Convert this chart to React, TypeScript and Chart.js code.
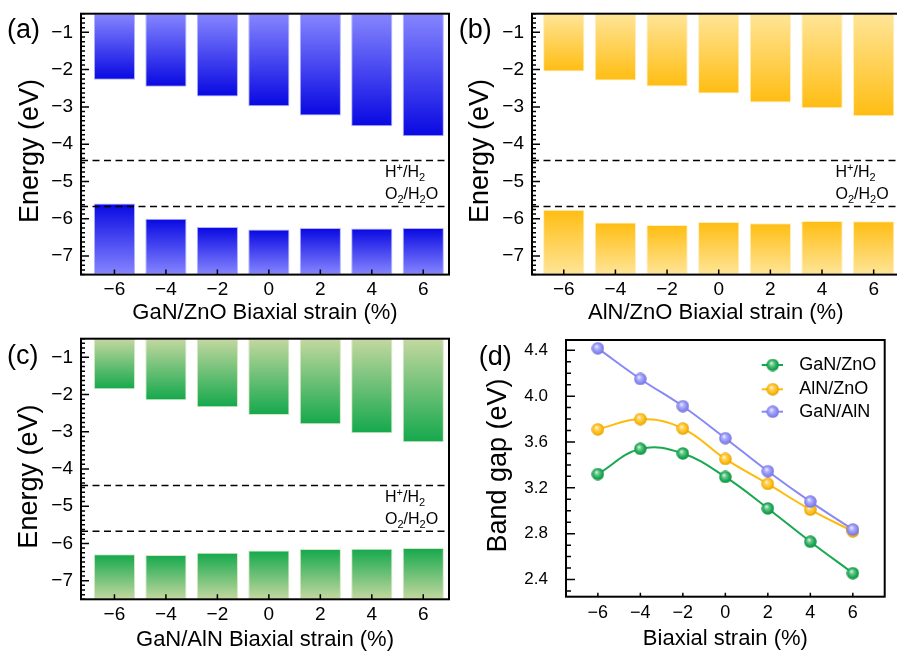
import React, { useEffect, useRef } from 'react';
import { Chart, registerables } from 'chart.js';

Chart.register(...registerables);

// ---------------- data ----------------
const strains = [-6, -4, -2, 0, 2, 4, 6];

const ganZnoCBM = [-2.27, -2.46, -2.72, -2.98, -3.23, -3.52, -3.79];
const ganZnoVBM = [-5.59, -6.0, -6.22, -6.29, -6.25, -6.26, -6.25];
const alnZnoCBM = [-2.05, -2.29, -2.45, -2.64, -2.88, -3.04, -3.25];
const alnZnoVBM = [-5.76, -6.1, -6.17, -6.09, -6.12, -6.06, -6.07];
const ganAlnCBM = [-1.86, -2.15, -2.34, -2.55, -2.8, -3.04, -3.28];
const ganAlnVBM = [-6.29, -6.31, -6.25, -6.19, -6.15, -6.14, -6.12];

const energyRange = [-7.5, -0.5];
const energyTicks = [-7, -6, -5, -4, -3, -2, -1];
const redoxLevels = [-4.44, -5.67];
// [text, mode] mode 0 normal, 1 superscript, 2 subscript
const redoxLabels: [string, number][][] = [
  [['H', 0], ['+', 1], ['/H', 0], ['2', 2]],
  [['O', 0], ['2', 2], ['/H', 0], ['2', 2], ['O', 0]],
];

const gapGaNZnO = [3.32, 3.54, 3.5, 3.295, 3.02, 2.73, 2.455];
const gapAlNZnO = [3.71, 3.8, 3.717, 3.452, 3.234, 3.01, 2.82];
const gapGaNAlN = [4.417, 4.15, 3.912, 3.633, 3.345, 3.08, 2.836];
const gapSeriesNames = ['GaN/ZnO', 'AlN/ZnO', 'GaN/AlN'];
const gapTicks = [2.4, 2.8, 3.2, 3.6, 4.0, 4.4];
const gapRange = [2.25, 4.49];

// ---------------- helpers ----------------
const FONT = '"Liberation Sans", Arial, Helvetica, sans-serif';
Chart.defaults.font.family = FONT;
Chart.defaults.color = '#000';

const fmtSigned = (v: number) => (v < 0 ? '\u2212' + Math.abs(v) : String(v));

function gradientFill(light: string, dark: string) {
  return (c: any) => {
    const chart = c.chart;
    const raw = c.raw;
    if (!chart.chartArea || !raw || !Array.isArray(raw.y)) return light;
    const ys = chart.scales.y;
    const p0 = ys.getPixelForValue(raw.y[0]);
    const p1 = ys.getPixelForValue(raw.y[1]);
    if (!isFinite(p0) || !isFinite(p1) || p0 === p1) return dark;
    const g = chart.ctx.createLinearGradient(0, p0, 0, p1);
    g.addColorStop(0, light);
    g.addColorStop(1, dark);
    return g;
  };
}

function drawChem(ctx: CanvasRenderingContext2D, x: number, y: number, parts: [string, number][]) {
  for (const [t, m] of parts) {
    ctx.font = (m ? '11px ' : '16px ') + FONT;
    const dy = m === 1 ? -6 : m === 2 ? 4 : 0;
    ctx.fillText(t, x, y + dy);
    x += ctx.measureText(t).width;
  }
}

type FrameCfg = {
  yMajor: number[];
  yMinorStep: number;
  yMajorLen: number;
  yMinorLen: number;
  xMajor: number[];
  xLen: number;
  label: string;
  labelX: number;
  labelY: number;
  yTitle: string;
  yTitleX: number;
  yTitleY: number;
};

function framePlugin(cfg: FrameCfg) {
  return {
    id: 'frame',
    afterDraw(chart: any) {
      const { ctx, chartArea: a, scales } = chart;
      const y = scales.y;
      const x = scales.x;
      ctx.save();
      ctx.strokeStyle = '#000';
      ctx.lineWidth = 2;
      ctx.strokeRect(a.left, a.top, a.right - a.left, a.bottom - a.top);
      ctx.lineWidth = 1.5;
      ctx.beginPath();
      const st = cfg.yMinorStep;
      const k0 = Math.ceil(y.min / st - 1e-6);
      const k1 = Math.floor(y.max / st + 1e-6);
      for (let k = k0; k <= k1; k++) {
        const v = k * st;
        const major = cfg.yMajor.some((m) => Math.abs(m - v) < 1e-6);
        const p = y.getPixelForValue(v);
        ctx.moveTo(a.left, p);
        ctx.lineTo(a.left + (major ? cfg.yMajorLen : cfg.yMinorLen), p);
      }
      for (const v of cfg.xMajor) {
        const p = x.getPixelForValue(v);
        ctx.moveTo(p, a.bottom);
        ctx.lineTo(p, a.bottom - cfg.xLen);
      }
      ctx.stroke();
      ctx.fillStyle = '#000';
      ctx.font = '27px ' + FONT;
      ctx.textAlign = 'left';
      ctx.textBaseline = 'middle';
      ctx.fillText(cfg.label, cfg.labelX, cfg.labelY);
      // y-axis title
      ctx.save();
      ctx.translate(cfg.yTitleX, cfg.yTitleY);
      ctx.rotate(-Math.PI / 2);
      ctx.textAlign = 'center';
      ctx.textBaseline = 'middle';
      ctx.font = '27px ' + FONT;
      ctx.fillText(cfg.yTitle, 0, 0);
      ctx.restore();
      ctx.restore();
    },
  };
}

const redoxPlugin = {
  id: 'redox',
  afterDatasetsDraw(chart: any) {
    const { ctx, chartArea: a, scales } = chart;
    const y = scales.y;
    ctx.save();
    ctx.fillStyle = '#000';
    ctx.textAlign = 'left';
    ctx.textBaseline = 'alphabetic';
    drawChem(ctx, a.right - 64, y.getPixelForValue(redoxLevels[0]) + 16.7, redoxLabels[0]);
    drawChem(ctx, a.right - 64, y.getPixelForValue(redoxLevels[1]) - 7, redoxLabels[1]);
    ctx.restore();
  },
};

type Box = { left: number; top: number; w: number; h: number };
type Area = { l: number; t: number; r: number; b: number };

function scaleFitters(cv: Box, area: Area) {
  const yWidth = area.l - cv.left;
  const xHeight = cv.top + cv.h - area.b;
  const zero = (s: any) => {
    s.paddingTop = 0;
    s.paddingBottom = 0;
    s.paddingLeft = 0;
    s.paddingRight = 0;
  };
  return {
    padding: { top: area.t - cv.top, right: cv.left + cv.w - area.r, bottom: 0, left: 0 },
    yFit: (s: any) => {
      s.width = yWidth;
      zero(s);
    },
    xFit: (s: any) => {
      s.height = xHeight;
      zero(s);
    },
  };
}

type BarPanelCfg = {
  cv: Box;
  area: Area;
  xMin: number;
  xMax: number;
  cbm: number[];
  vbm: number[];
  light: string;
  dark: string;
  edge: string;
  xTitle: string;
  yTitleX: number;
  yTitleY: number;
  xTitlePad: number;
  label: string;
  labelX: number;
  labelY: number;
};

function buildBarChart(canvas: HTMLCanvasElement, p: BarPanelCfg) {
  const f = scaleFitters(p.cv, p.area);
  const fill = gradientFill(p.light, p.dark);
  const barCommon = {
    type: 'bar' as const,
    grouped: false,
    backgroundColor: fill,
    borderColor: p.edge,
    borderWidth: 1,
    borderSkipped: false,
    barPercentage: 0.8,
    categoryPercentage: 1,
    order: 1,
  };
  const dash = (lvl: number) => ({
    type: 'line' as const,
    data: [
      { x: p.xMin, y: lvl },
      { x: p.xMax, y: lvl },
    ],
    borderColor: '#000',
    borderWidth: 1.5,
    borderDash: [7, 4.5],
    pointRadius: 0,
    fill: false,
    order: 0,
  });
  return new Chart(canvas, {
    type: 'bar',
    data: {
      datasets: [
        { ...barCommon, label: 'CBM', data: strains.map((x, i) => ({ x, y: [energyRange[1], p.cbm[i]] })) },
        { ...barCommon, label: 'VBM', data: strains.map((x, i) => ({ x, y: [energyRange[0], p.vbm[i]] })) },
        dash(redoxLevels[0]),
        dash(redoxLevels[1]),
      ] as any,
    },
    options: {
      responsive: false,
      maintainAspectRatio: false,
      animation: false,
      events: [],
      layout: { padding: f.padding },
      plugins: { legend: { display: false }, tooltip: { enabled: false } },
      scales: {
        x: {
          type: 'linear',
          min: p.xMin,
          max: p.xMax,
          offset: false,
          grid: { display: false, drawTicks: false },
          border: { display: false },
          afterBuildTicks: (s: any) => {
            s.ticks = strains.map((v) => ({ value: v }));
          },
          afterFit: f.xFit,
          ticks: {
            font: { size: 19 },
            color: '#000',
            padding: 4,
            maxRotation: 0,
            autoSkip: false,
            callback: (v: any) => fmtSigned(Number(v)),
          },
          title: {
            display: true,
            text: p.xTitle,
            font: { size: 22 },
            color: '#000',
            padding: { top: 0, bottom: p.xTitlePad },
          },
        },
        y: {
          type: 'linear',
          min: energyRange[0],
          max: energyRange[1],
          grid: { display: false, drawTicks: false },
          border: { display: false },
          afterBuildTicks: (s: any) => {
            s.ticks = energyTicks.map((v) => ({ value: v }));
          },
          afterFit: f.yFit,
          ticks: {
            font: { size: 19 },
            color: '#000',
            padding: 8,
            callback: (v: any) => fmtSigned(Number(v)),
          },
          title: { display: false },
        },
      },
    } as any,
    plugins: [
      redoxPlugin,
      framePlugin({
        yMajor: energyTicks,
        yMinorStep: 0.125,
        yMajorLen: 8,
        yMinorLen: 4,
        xMajor: strains,
        xLen: 5,
        label: p.label,
        labelX: p.labelX,
        labelY: p.labelY,
        yTitle: 'Energy (eV)',
        yTitleX: p.yTitleX,
        yTitleY: p.yTitleY,
      }),
    ] as any,
  });
}

function ball(rgb: number[]) {
  const c = document.createElement('canvas');
  c.width = 13;
  c.height = 13;
  const g = c.getContext('2d')!;
  const mix = (t: number) =>
    `rgb(${Math.round(rgb[0] + (255 - rgb[0]) * t)},${Math.round(rgb[1] + (255 - rgb[1]) * t)},${Math.round(
      rgb[2] + (255 - rgb[2]) * t
    )})`;
  const dk = (t: number) => `rgb(${Math.round(rgb[0] * t)},${Math.round(rgb[1] * t)},${Math.round(rgb[2] * t)})`;
  const grad = g.createRadialGradient(5, 4.5, 0.3, 6.5, 6.5, 6.6);
  grad.addColorStop(0, mix(0.85));
  grad.addColorStop(0.3, mix(0.35));
  grad.addColorStop(0.7, `rgb(${rgb.join(',')})`);
  grad.addColorStop(1, dk(0.82));
  g.fillStyle = grad;
  g.beginPath();
  g.arc(6.5, 6.5, 6.2, 0, Math.PI * 2);
  g.fill();
  return c;
}

const gapColors = [
  [24, 168, 80],
  [255, 186, 10],
  [136, 136, 246],
];

function buildGapChart(canvas: HTMLCanvasElement) {
  const cv = { left: 452, top: 330, w: 445, h: 324 };
  const area = { l: 566, t: 340, r: 884.7, b: 596.7 };
  const f = scaleFitters(cv, area);
  const series = [gapGaNZnO, gapAlNZnO, gapGaNAlN];
  const balls = gapColors.map(ball);
  const orders = [2, 1, 0];
  const legendPlugin = {
    id: 'gapLegend',
    afterDraw(chart: any) {
      const { ctx, chartArea: a } = chart;
      ctx.save();
      const rows = [25, 49.3, 71.7];
      gapSeriesNames.forEach((name, i) => {
        const cy = a.top + rows[i];
        ctx.strokeStyle = `rgb(${gapColors[i].join(',')})`;
        ctx.lineWidth = 2;
        ctx.beginPath();
        ctx.moveTo(a.right - 123, cy);
        ctx.lineTo(a.right - 101.7, cy);
        ctx.stroke();
        ctx.drawImage(balls[i], a.right - 112 - 6.5, cy - 6.5);
        ctx.fillStyle = '#000';
        ctx.font = '18px ' + FONT;
        ctx.textAlign = 'left';
        ctx.textBaseline = 'middle';
        ctx.fillText(name, a.right - 85.4, cy);
      });
      ctx.restore();
    },
  };
  return new Chart(canvas, {
    type: 'line',
    data: {
      datasets: series.map((vals, i) => ({
        label: gapSeriesNames[i],
        data: strains.map((x, j) => ({ x, y: vals[j] })),
        borderColor: `rgb(${gapColors[i].join(',')})`,
        borderWidth: 2,
        tension: 0.4,
        pointStyle: balls[i],
        pointRadius: 6,
        fill: false,
        order: orders[i],
      })),
    },
    options: {
      responsive: false,
      maintainAspectRatio: false,
      animation: false,
      events: [],
      layout: { padding: f.padding },
      plugins: { legend: { display: false }, tooltip: { enabled: false } },
      scales: {
        x: {
          type: 'linear',
          min: -7.5,
          max: 7.5,
          grid: { display: false, drawTicks: false },
          border: { display: false },
          afterBuildTicks: (s: any) => {
            s.ticks = strains.map((v) => ({ value: v }));
          },
          afterFit: f.xFit,
          ticks: {
            font: { size: 18 },
            color: '#000',
            padding: 6,
            maxRotation: 0,
            autoSkip: false,
            callback: (v: any) => fmtSigned(Number(v)),
          },
          title: {
            display: true,
            text: 'Biaxial strain (%)',
            font: { size: 22 },
            color: '#000',
            padding: { top: 0, bottom: 2 },
          },
        },
        y: {
          type: 'linear',
          min: gapRange[0],
          max: gapRange[1],
          grid: { display: false, drawTicks: false },
          border: { display: false },
          afterBuildTicks: (s: any) => {
            s.ticks = gapTicks.map((v) => ({ value: v }));
          },
          afterFit: f.yFit,
          ticks: {
            font: { size: 17 },
            color: '#000',
            padding: 18,
            callback: (v: any) => Number(v).toFixed(1),
          },
          title: { display: false },
        },
      },
    } as any,
    plugins: [
      legendPlugin,
      framePlugin({
        yMajor: gapTicks,
        yMinorStep: 0.1,
        yMajorLen: 9,
        yMinorLen: 5,
        xMajor: strains,
        xLen: 4,
        label: '(d)',
        labelX: 26.7,
        labelY: 27.5,
        yTitle: 'Band gap (eV)',
        yTitleX: 47,
        yTitleY: 135.5,
      }),
    ] as any,
  });
}

function ChartCanvas({ box, build }: { box: Box; build: (c: HTMLCanvasElement) => Chart }) {
  const ref = useRef<HTMLCanvasElement>(null);
  useEffect(() => {
    if (!ref.current) return;
    const chart = build(ref.current);
    return () => chart.destroy();
  }, []);
  return (
    <canvas
      ref={ref}
      width={box.w}
      height={box.h}
      style={{ position: 'absolute', left: box.left, top: box.top, width: box.w, height: box.h, display: 'block' }}
    />
  );
}

const panelA: BarPanelCfg = {
  cv: { left: 0, top: 0, w: 452, h: 330 },
  area: { l: 81, t: 13.7, r: 449, b: 274.6 },
  xMin: -7.3,
  xMax: 7.0,
  cbm: ganZnoCBM,
  vbm: ganZnoVBM,
  light: 'rgb(134,134,255)',
  dark: 'rgb(8,8,226)',
  edge: 'rgb(178,178,255)',
  xTitle: 'GaN/ZnO Biaxial strain (%)',
  yTitleX: 31,
  yTitleY: 151,
  xTitlePad: 3.8,
  label: '(a)',
  labelX: 7,
  labelY: 31,
};

const panelB: BarPanelCfg = {
  cv: { left: 452, top: 0, w: 452, h: 330 },
  area: { l: 532, t: 13.7, r: 899.5, b: 274.6 },
  xMin: -7.23,
  xMax: 7.0,
  cbm: alnZnoCBM,
  vbm: alnZnoVBM,
  light: 'rgb(255,229,152)',
  dark: 'rgb(255,189,18)',
  edge: 'rgb(255,238,190)',
  xTitle: 'AlN/ZnO Biaxial strain (%)',
  yTitleX: 29,
  yTitleY: 151,
  xTitlePad: 3.8,
  label: '(b)',
  labelX: 6.7,
  labelY: 31,
};

const panelC: BarPanelCfg = {
  cv: { left: 0, top: 330, w: 452, h: 324 },
  area: { l: 81, t: 338.7, r: 449, b: 599.3 },
  xMin: -7.3,
  xMax: 7.0,
  cbm: ganAlnCBM,
  vbm: ganAlnVBM,
  light: 'rgb(196,216,160)',
  dark: 'rgb(20,168,76)',
  edge: 'rgb(215,232,195)',
  xTitle: 'GaN/AlN Biaxial strain (%)',
  yTitleX: 30,
  yTitleY: 146.6,
  xTitlePad: 1,
  label: '(c)',
  labelX: 7,
  labelY: 27,
};

export default function App() {
  return (
    <div
      style={{
        position: 'fixed',
        left: 0,
        top: 0,
        width: 897,
        height: 654,
        overflow: 'hidden',
        background: '#fff',
      }}
    >
      <ChartCanvas box={panelA.cv} build={(c) => buildBarChart(c, panelA)} />
      <ChartCanvas box={panelB.cv} build={(c) => buildBarChart(c, panelB)} />
      <ChartCanvas box={panelC.cv} build={(c) => buildBarChart(c, panelC)} />
      <ChartCanvas box={{ left: 452, top: 330, w: 445, h: 324 }} build={(c) => buildGapChart(c)} />
    </div>
  );
}
